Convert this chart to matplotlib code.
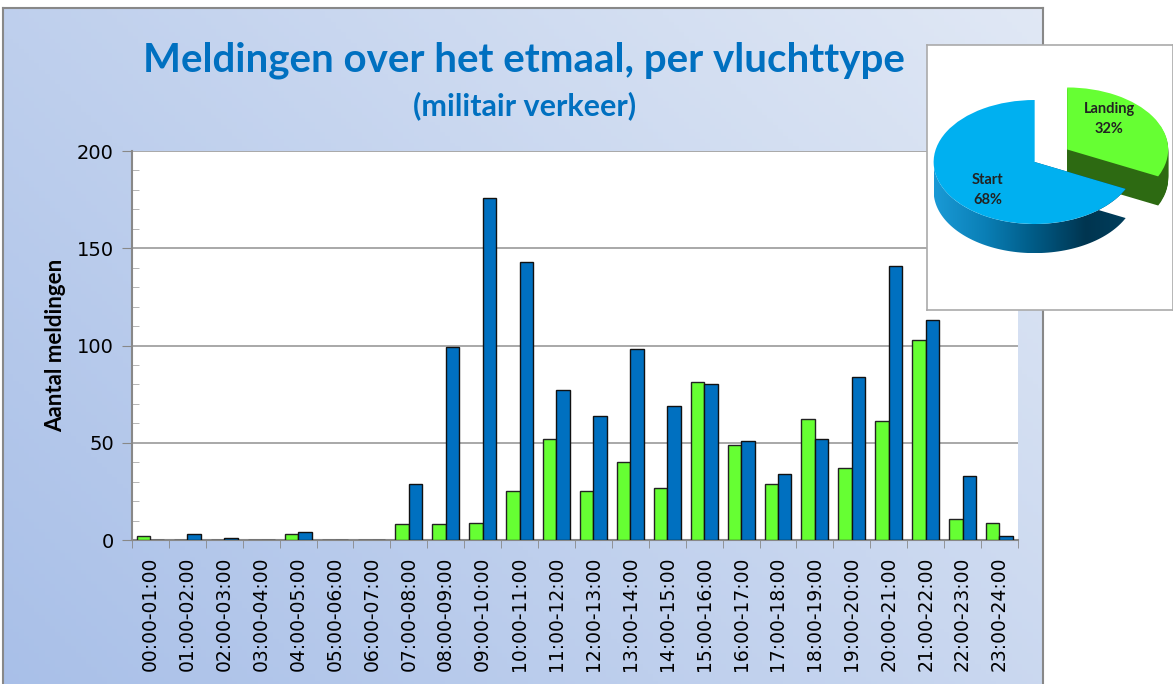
# -*- coding: utf-8 -*-
"""
Meldingen over het etmaal, per vluchttype (militair verkeer)
"""
import numpy as np
import matplotlib
matplotlib.use('Agg')
import matplotlib.pyplot as plt
from matplotlib.ticker import FixedLocator, MultipleLocator
from matplotlib.patches import Polygon
from matplotlib.colors import LinearSegmentedColormap

# data
hours = ['00:00-01:00', '01:00-02:00', '02:00-03:00', '03:00-04:00',
         '04:00-05:00', '05:00-06:00', '06:00-07:00', '07:00-08:00',
         '08:00-09:00', '09:00-10:00', '10:00-11:00', '11:00-12:00',
         '12:00-13:00', '13:00-14:00', '14:00-15:00', '15:00-16:00',
         '16:00-17:00', '17:00-18:00', '18:00-19:00', '19:00-20:00',
         '20:00-21:00', '21:00-22:00', '22:00-23:00', '23:00-24:00']
landing = [2, 0, 0, 0, 3, 0, 0, 8, 8, 9, 25, 52,
           25, 40, 27, 81, 49, 29, 62, 37, 61, 103, 11, 9]
start = [0, 3, 1, 0, 4, 0, 0, 29, 99, 176, 143, 77,
         64, 98, 69, 80, 51, 34, 52, 84, 141, 113, 33, 2]
pie_labels = ['Landing', 'Start']

GREEN = '#66ff33'
BLUE = '#0070c0'
TITLE_BLUE = '#0070c0'
FONT = ['Lato', 'DejaVu Sans']

plt.rcParams['font.family'] = FONT

fig = plt.figure(figsize=(11.73, 6.84), dpi=100)
fig.patch.set_facecolor('white')

# gradient chart background
bg = fig.add_axes([0.0026, -0.02, 0.8866, 1.008])
gx, gy = np.meshgrid(np.linspace(0, 1, 200), np.linspace(0, 1, 200))
t = np.clip(0.6 * gx + 0.4 * gy, 0, 1)
c0 = np.array([0.66, 0.75, 0.91])
c1 = np.array([0.88, 0.91, 0.96])
img = c0[None, None, :] * (1 - t[..., None]) + c1[None, None, :] * t[..., None]
bg.imshow(img, origin='lower', aspect='auto', extent=[0, 1, 0, 1])
bg.set_xticks([])
bg.set_yticks([])
for s in bg.spines.values():
    s.set_color('#888888')
    s.set_linewidth(1.5)

fig.text(0.447, 0.912, 'Meldingen over het etmaal, per vluchttype',
         ha='center', va='center', fontsize=29, fontweight='bold', color=TITLE_BLUE)
fig.text(0.447, 0.846, '(militair verkeer)', ha='center', va='center',
         fontsize=22, fontweight='bold', color=TITLE_BLUE)

# bar chart
ax = fig.add_axes([0.1125, 0.2105, 0.7553, 0.5687])
ax.set_facecolor('white')
x = np.arange(len(hours))
w = 0.365
ax.bar(x - w / 2, landing, w, color=GREEN, edgecolor='#222222', linewidth=1, zorder=3)
ax.bar(x + w / 2, start, w, color=BLUE, edgecolor='#111111', linewidth=1, zorder=3)
ax.set_xlim(-0.5, len(hours) - 0.5)
ax.set_ylim(0, 200)
ax.yaxis.set_major_locator(MultipleLocator(50))
ax.yaxis.set_minor_locator(MultipleLocator(10))
ax.grid(axis='y', which='major', color='#999999', linewidth=1.2, zorder=0)
ax.set_xticks(x)
ax.set_xticklabels(hours, rotation=90, fontsize=13.5, family=['DejaVu Sans'])
ax.xaxis.set_minor_locator(FixedLocator(np.arange(-0.5, len(hours), 1)))
ax.tick_params(axis='x', which='major', length=0, pad=12)
ax.tick_params(axis='x', which='minor', length=6, color='#888888', direction='out')
ax.tick_params(axis='y', which='major', length=7, color='#888888', direction='out',
               labelsize=14, pad=6)
ax.tick_params(axis='y', which='minor', length=5, color='#aaaaaa', direction='in')
for lab in ax.get_yticklabels():
    lab.set_family(['DejaVu Sans'])
ax.set_ylabel('Aantal meldingen', fontsize=16, fontweight='bold', labelpad=8)
for side in ['top', 'right']:
    ax.spines[side].set_visible(False)
ax.spines['left'].set_color('#888888')
ax.spines['bottom'].set_color('#888888')
ax.spines['left'].set_linewidth(1.5)
ax.spines['bottom'].set_linewidth(1.5)

# pie inset
box = fig.add_axes([0.790, 0.5468, 0.2097, 0.3874])
box.set_facecolor('white')
box.set_xticks([])
box.set_yticks([])
for s in box.spines.values():
    s.set_color('#aaaaaa')
    s.set_linewidth(1.2)

pax = fig.add_axes([0.790, 0.5468, 0.2097, 0.3874])
pax.patch.set_visible(False)
totals = [sum(landing), sum(start)]
pct = [100.0 * v / sum(totals) for v in totals]
explode = [0.38, 0]
depth = 0.47
steps = 30

# side of the landing slice
for k in range(steps, 0, -1):
    pax.pie(totals, explode=explode, startangle=90, counterclock=False,
            colors=['#2d6a12', 'none'], center=(0, -depth * k / steps),
            wedgeprops=dict(linewidth=0))

# side of the start slice, shaded from left to right
cut = np.radians(90 - 360 * pct[0] / 100)
arc = np.linspace(np.pi, 2 * np.pi + cut, 80)
top = np.column_stack([np.cos(arc), np.sin(arc)])
bot = np.column_stack([np.cos(arc[::-1]), np.sin(arc[::-1]) - depth])
side = np.vstack([top, [[0, 0], [0, -depth]], bot])
poly = Polygon(side, closed=True, facecolor='none', edgecolor='none')
pax.add_patch(poly)
side_cmap = LinearSegmentedColormap.from_list(
    'side', ['#1a9ad6', '#0a7fb6', '#005a85', '#003550', '#00405f'])
grad = np.linspace(0, 1, 256)[None, :]
im = pax.imshow(grad, cmap=side_cmap, aspect='auto',
                extent=[-1, 1, -1 - depth, 0.2], zorder=1)
im.set_clip_path(poly)

wedges, texts = pax.pie(totals, explode=explode, startangle=90, counterclock=False,
                        colors=[GREEN, '#00b0f0'],
                        labels=['%s\n%d%%' % (l, round(p)) for l, p in zip(pie_labels, pct)],
                        labeldistance=0.55, wedgeprops=dict(linewidth=0),
                        textprops=dict(fontsize=10.5, fontweight='bold', color='#222222',
                                       ha='center', va='center', linespacing=1.5))
for wd in wedges:
    wd.set_zorder(2)
for tx in texts:
    tx.set_zorder(3)
lx, ly = texts[0].get_position()
texts[0].set_position((lx - 0.05, ly + 0.2))
sx, sy = texts[1].get_position()
texts[1].set_position((sx, sy - 0.16))
pax.set_aspect('auto')
pax.set_xlim(-1.069, 1.366)
pax.set_ylim(-2.387, 1.887)
pax.axis('off')

fig.savefig('out.png', dpi=100)
